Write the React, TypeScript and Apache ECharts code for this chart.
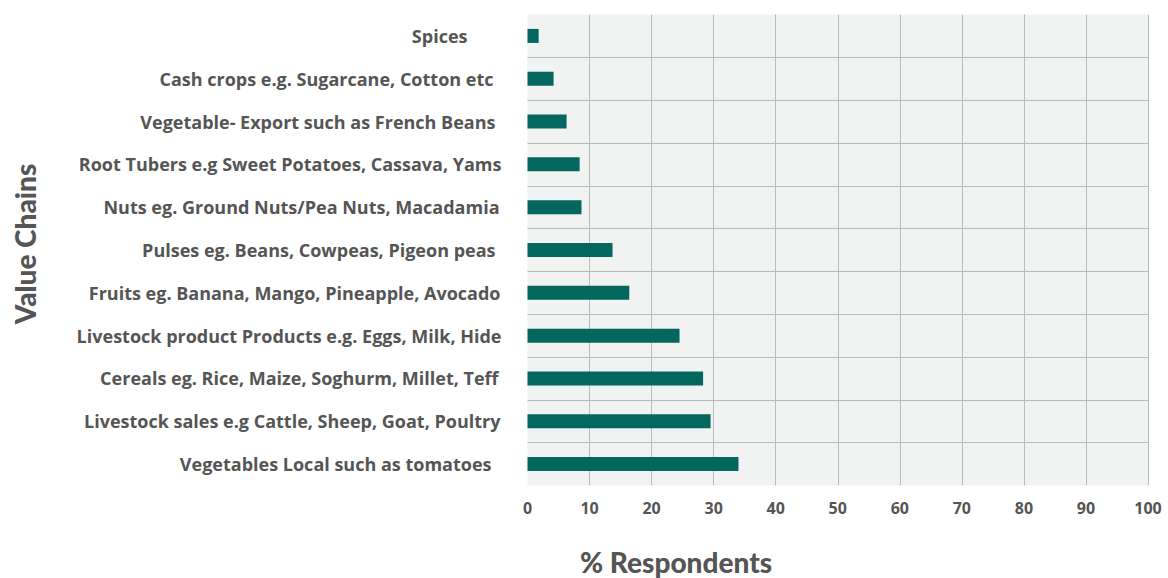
import React, { useEffect, useRef } from "react";
import * as echarts from "echarts";

const categories = [
  "Spices",
  "Cash crops e.g. Sugarcane, Cotton etc",
  "Vegetable- Export such as French Beans",
  "Root Tubers e.g Sweet Potatoes, Cassava, Yams",
  "Nuts eg. Ground Nuts/Pea Nuts, Macadamia",
  "Pulses eg. Beans, Cowpeas, Pigeon peas",
  "Fruits eg. Banana, Mango, Pineapple, Avocado",
  "Livestock product Products e.g. Eggs, Milk, Hide",
  "Cereals eg. Rice, Maize, Soghurm, Millet, Teff",
  "Livestock sales e.g Cattle, Sheep, Goat, Poultry",
  "Vegetables Local such as tomatoes",
];

const values = [1.8, 4.2, 6.3, 8.4, 8.7, 13.7, 16.4, 24.5, 28.3, 29.5, 34.0];

const xTicks = [0, 10, 20, 30, 40, 50, 60, 70, 80, 90, 100];

const xTitle = "% Respondents";
const yTitle = "Value Chains";

// label trailing offsets (style only)
const labelPad = [34, 8, 6, 0, 2, 6, 1, 0, 3, 1, 10];

const FONT = "'Open Sans', Lato, sans-serif";
const TFONT = "Lato, 'Open Sans', sans-serif";
const TEXT = "#555555";

export default function App() {
  const ref = useRef<HTMLDivElement>(null);
  useEffect(() => {
    document.body.style.margin = "0";
    const chart = echarts.init(ref.current!, undefined, { renderer: "svg" });
    const rich: any = {};
    labelPad.forEach((p, i) => {
      rich["p" + i] = {
        fontSize: 18,
        fontWeight: 700,
        fontFamily: FONT,
        color: TEXT,
        padding: [0, p, 0, 0],
      };
    });
    chart.setOption({
      animation: false,
      grid: {
        left: 527.5,
        right: 20,
        top: 14.5,
        bottom: 92.5,
        show: true,
        backgroundColor: "#f1f2f2",
        borderWidth: 0,
      },
      xAxis: {
        type: "value",
        min: xTicks[0],
        max: xTicks[xTicks.length - 1],
        interval: xTicks[1] - xTicks[0],
        axisLine: { show: false },
        axisTick: { show: false },
        axisLabel: {
          margin: 14,
          fontSize: 16,
          fontWeight: 700,
          fontFamily: FONT,
          color: TEXT,
        },
        splitLine: {
          show: true,
          showMinLine: false,
          lineStyle: { color: "#b9bcbb", width: 1 },
        },
      },
      yAxis: {
        type: "category",
        data: categories,
        inverse: true,
        axisLine: { show: false },
        axisTick: { show: false },
        axisLabel: {
          margin: 26,
          fontSize: 18,
          fontWeight: 700,
          fontFamily: FONT,
          color: TEXT,
          formatter: (v: string) => {
            const i = categories.indexOf(v);
            return `{p${i}|${v}}`;
          },
          rich,
        },
        splitLine: {
          show: true,
          showMinLine: false,
          showMaxLine: false,
          lineStyle: { color: "#b9bcbb", width: 1 },
        },
      },
      series: [
        {
          type: "bar",
          data: values,
          barWidth: 14,
          itemStyle: { color: "#03665f" },
        },
      ],
      graphic: [
        {
          type: "text",
          x: 580,
          y: 562,
          style: {
            text: xTitle,
            fontSize: 28,
            fontWeight: 900,
            fontFamily: TFONT,
            fill: TEXT,
            textAlign: "left",
            textVerticalAlign: "middle",
          },
        },
        {
          type: "text",
          x: 25,
          y: 244,
          rotation: Math.PI / 2,
          style: {
            text: yTitle,
            fontSize: 28,
            fontWeight: 900,
            fontFamily: TFONT,
            fill: TEXT,
            textAlign: "center",
            textVerticalAlign: "middle",
          },
        },
      ],
    });
    return () => chart.dispose();
  }, []);
  return <div ref={ref} style={{ width: 1168, height: 578 }} />;
}
